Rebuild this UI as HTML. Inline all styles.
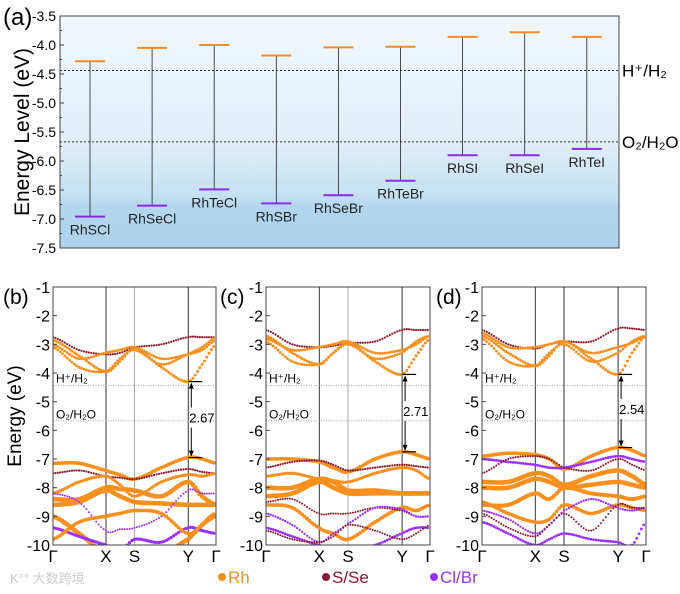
<!DOCTYPE html>
<html><head><meta charset="utf-8"><style>
html,body{margin:0;padding:0;background:#fff;width:680px;height:594px;overflow:hidden}
svg{display:block;font-family:"Liberation Sans","Noto Sans CJK SC",sans-serif}
</style></head><body>
<svg id="fig" width="680" height="594" viewBox="0 0 680 594">
<defs>
<linearGradient id="bg" x1="0" y1="0" x2="0" y2="1">
<stop offset="0" stop-color="#f2f8fd"/><stop offset="0.55" stop-color="#e0eef8"/><stop offset="0.78" stop-color="#c3e0f2"/><stop offset="0.82" stop-color="#b3d6ee"/><stop offset="1" stop-color="#acd2ec"/>
</linearGradient>
</defs>
<g id="pa"></g>
<g id="pb"></g>
<g id="pc"></g>
<g id="pd"></g>
<g font-size="17">
<circle cx="222" cy="577" r="4" fill="#f7901e"/>
<text x="228" y="583" fill="#f7901e">Rh</text>
<circle cx="326" cy="577" r="4" fill="#8b1a2e"/>
<text x="332" y="583" fill="#8b1a2e">S/Se</text>
<circle cx="434" cy="577" r="4" fill="#9b30ff"/>
<text x="440" y="583" fill="#9b30ff">Cl/Br</text>
</g>
<text x="10" y="583" font-size="13" fill="#ccc">K°° 大数跨境</text>
</svg>
<script>
const NS="http://www.w3.org/2000/svg";
function mk(p,tag,at,txt){const e=document.createElementNS(NS,tag);for(const k in at)e.setAttribute(k,at[k]);if(txt!==undefined)e.textContent=txt;p.appendChild(e);return e;}

// ---- Panel (a) data ----
const materials=["RhSCl","RhSeCl","RhTeCl","RhSBr","RhSeBr","RhTeBr","RhSI","RhSeI","RhTeI"];
const cbm=[-4.28,-4.05,-4.0,-4.18,-4.04,-4.03,-3.86,-3.78,-3.86];
const vbm=[-6.96,-6.77,-6.49,-6.73,-6.59,-6.34,-5.9,-5.9,-5.79];
const aTicks=[-3.5,-4.0,-4.5,-5.0,-5.5,-6.0,-6.5,-7.0,-7.5];
const redoxH=-4.44, redoxO=-5.67;

(function(){
 const g=document.getElementById('pa');
 const L=60,R=619,T=16,B=248;
 const y=v=>T+(-3.5-v)/4*(B-T);
 const x=i=>90+i*62.1;
 let e=mk(g,'rect',{x:L,y:T,width:R-L,height:B-T,fill:'url(#bg)',stroke:'#444','stroke-width':1});
 
 e=mk(g,'text',{x:3,y:25,'font-size':24},'(a)');
 
 aTicks.forEach(v=>{
  e=mk(g,'line',{x1:L,x2:L+4,y1:y(v),y2:y(v),stroke:'#444'});
  
  if(v>-7.5){
   e=mk(g,'line',{x1:L,x2:L+2,y1:y(v-0.25),y2:y(v-0.25),stroke:'#444'});
   
  }
  e=mk(g,'text',{x:L-4,y:y(v)+5,'font-size':14,'text-anchor':'end'},v.toFixed(1));
  
 });
 e=mk(g,'text',{x:0,y:0,'font-size':21,'text-anchor':'middle',transform:`translate(29,${(T+B)/2}) rotate(-90)`},'Energy Level (eV)');
 
 [[redoxH,'H⁺/H₂','h-line-a'],[redoxO,'O₂/H₂O','o-line-a']].forEach(([v,t,n])=>{
  e=mk(g,'line',{x1:L,x2:R,y1:y(v),y2:y(v),stroke:'#333','stroke-dasharray':'2,2'});
  
  e=mk(g,'text',{x:622,y:y(v)+6,'font-size':17},t);
  
 });
 materials.forEach((m,i)=>{
  const cx=x(i);
  e=mk(g,'line',{x1:cx,x2:cx,y1:y(cbm[i]),y2:y(vbm[i]),stroke:'#222','stroke-width':0.8});
  
  e=mk(g,'line',{x1:cx-15,x2:cx+15,y1:y(cbm[i]),y2:y(cbm[i]),stroke:'#f28a2a','stroke-width':2});
  
  e=mk(g,'line',{x1:cx-15,x2:cx+15,y1:y(vbm[i]),y2:y(vbm[i]),stroke:'#8a2be2','stroke-width':2});
  
  e=mk(g,'text',{x:cx,y:y(vbm[i])+18,'font-size':14,'text-anchor':'middle',fill:'#222'},m);
  
 });
})();

// ---- Band structure data ----
const kFrac=[0,0.16,0.325,0.41,0.5,0.665,0.83,0.915,1];
const kLabels=["Γ","X","S","Y","Γ"];
const kLabelPos=[0,0.325,0.5,0.83,1];
const eTicks=[-1,-2,-3,-4,-5,-6,-7,-8,-9,-10];
// b
const bBands=[
 [[-2.75,-3.2,-3.35,-3.3,-3.1,-3.0,-2.75,-2.75,-2.75],'d',1.4],
 [[-2.85,-3.4,-3.95,-3.6,-3.15,-3.8,-4.3,-3.7,-3.0],'o',2.2],
 [[-3.0,-3.5,-3.3,-3.2,-3.1,-3.5,-3.35,-3.2,-2.85],'o',2.0],
 [[-3.1,-3.8,-3.95,-3.5,-3.2,-3.7,-3.35,-3.1,-2.75],'o',2.0],
 [[-7.15,-7.15,-7.4,-7.55,-7.7,-7.3,-6.95,-7.0,-7.15],'o',3.0],
 [[-7.5,-7.4,-7.6,-7.65,-7.7,-7.5,-7.35,-7.45,-7.5],'d',1.4],
 [[-8.2,-7.8,-7.6,-7.9,-8.3,-7.8,-7.55,-7.6,-7.5],'o',2.5],
 [[-8.4,-8.4,-8.0,-8.05,-8.1,-8.3,-7.8,-8.3,-8.6],'o',4.0],
 [[-8.6,-8.5,-8.1,-8.3,-8.5,-8.55,-8.6,-8.6,-8.6],'o',4.0],
 [[-8.2,-8.5,-9.5,-9.45,-9.4,-9.0,-8.1,-8.2,-8.2],'p',1.2],
 [[-9.0,-9.6,-10.3,-10.3,-10.3,-10.3,-9.8,-9.3,-8.9],'o',4.0],
 [[-9.4,-9.7,-10.0,-10.2,-9.8,-9.9,-9.4,-9.5,-9.6],'p',2.5],
 [[-9.8,-9.2,-9.0,-8.9,-8.8,-8.9,-9.6,-9.3,-9.0],'o',3.0]
];
const bGap=[-4.3,-6.95], bGapLabel="2.67";
// c
const cBands=[
 [[-2.5,-3.0,-3.1,-3.05,-2.95,-2.9,-2.5,-2.5,-2.5],'d',1.4],
 [[-2.7,-3.3,-3.7,-3.3,-2.95,-3.6,-4.05,-3.4,-2.8],'o',2.2],
 [[-2.8,-3.2,-3.1,-3.0,-2.9,-3.3,-3.2,-3.0,-2.7],'o',2.0],
 [[-2.9,-3.6,-3.7,-3.3,-3.0,-3.5,-3.3,-2.9,-2.7],'o',2.0],
 [[-7.0,-7.0,-7.1,-7.3,-7.45,-7.0,-6.75,-6.85,-7.0],'o',3.0],
 [[-7.3,-7.1,-7.05,-7.2,-7.4,-7.3,-7.2,-7.25,-7.3],'d',1.4],
 [[-7.6,-7.5,-7.7,-7.75,-7.8,-7.5,-7.3,-7.4,-7.7],'o',2.5],
 [[-8.0,-8.0,-7.7,-7.8,-8.1,-8.1,-8.2,-8.2,-8.2],'o',4.0],
 [[-8.3,-8.2,-7.8,-8.0,-8.2,-8.2,-8.2,-8.2,-8.2],'o',4.0],
 [[-8.6,-8.7,-9.4,-9.6,-9.8,-9.2,-8.7,-8.8,-8.6],'o',3.0],
 [[-8.5,-8.4,-8.9,-8.9,-8.9,-8.7,-8.8,-9.0,-9.0],'d',1.2],
 [[-8.9,-9.3,-9.9,-9.6,-9.25,-8.7,-8.75,-9.0,-9.0],'p',1.5],
 [[-9.4,-9.7,-10.0,-10.1,-10.1,-10.0,-9.6,-9.4,-9.4],'p',2.0],
 [[-9.5,-9.8,-9.9,-9.7,-9.3,-9.5,-9.8,-9.6,-9.3],'d',1.2]
];
const cGap=[-4.05,-6.75], cGapLabel="2.71";
// d
const dBands=[
 [[-2.5,-3.0,-3.15,-3.0,-2.9,-2.9,-2.45,-2.45,-2.5],'d',1.4],
 [[-2.7,-3.3,-3.75,-3.4,-2.9,-3.5,-4.05,-3.3,-2.7],'o',2.2],
 [[-2.6,-3.1,-3.1,-3.0,-2.9,-3.3,-3.1,-2.95,-2.7],'o',2.0],
 [[-2.8,-3.6,-3.75,-3.3,-3.0,-3.6,-3.3,-2.9,-2.7],'o',2.0],
 [[-6.9,-6.8,-6.85,-7.0,-7.35,-6.9,-6.6,-6.7,-6.9],'o',3.0],
 [[-7.0,-7.1,-7.2,-7.3,-7.3,-7.1,-6.9,-7.0,-7.1],'p',2.0],
 [[-7.5,-7.0,-6.9,-7.0,-7.3,-7.4,-7.0,-7.2,-7.4],'d',1.3],
 [[-7.8,-7.8,-7.5,-7.6,-7.9,-7.6,-7.4,-7.6,-7.9],'o',4.0],
 [[-8.0,-8.0,-7.7,-7.8,-8.0,-7.9,-7.8,-7.9,-8.0],'o',4.0],
 [[-8.6,-8.6,-8.2,-8.4,-8.0,-8.2,-8.3,-8.4,-8.3],'o',3.5],
 [[-8.5,-8.9,-9.2,-9.1,-8.6,-8.9,-8.6,-8.7,-8.8],'o',3.0],
 [[-8.8,-9.1,-9.6,-9.3,-8.8,-8.4,-8.7,-8.8,-8.7],'p',1.5],
 [[-8.9,-9.4,-9.7,-9.3,-8.9,-9.5,-8.6,-8.7,-8.7],'d',1.2],
 [[-9.2,-9.6,-10.0,-9.8,-9.6,-9.8,-9.9,-10.0,-9.2],'p',2.0]
];
const dGap=[-4.05,-6.6], dGapLabel="2.54";

const colors={o:'#f7901e',d:'#8b1a2e',p:'#9b30ff'};
function cr(p0,p1,p2,p3,t){return 0.5*((2*p1)+(-p0+p2)*t+(2*p0-5*p1+4*p2-p3)*t*t+(-p0+3*p1-3*p2+p3)*t*t*t);}

function bandPanel(id,label,L,R,bands,gap,gapLabel,showTitle){
 const g=document.getElementById(id);
 const T=287,B=545;
 const y=v=>T+(-1-v)/9*(B-T);
 const x=f=>L+f*(R-L);
 const clip='clip'+id;
 const cp=mk(g,'clipPath',{id:clip});mk(cp,'rect',{x:L,y:T,width:R-L,height:B-T});
 let e;
 kLabelPos.forEach((f,i)=>{
  if(i>0&&i<4){e=mk(g,'line',{x1:x(f),x2:x(f),y1:T,y2:B,stroke:i==2&&id!='pd'?'#aaa':'#333','stroke-width':1});
  }
  e=mk(g,'text',{x:x(f),y:B+17,'font-size':17,'text-anchor':'middle'},kLabels[i]);
  
 });
 [redoxH,redoxO].forEach(v=>{
  e=mk(g,'line',{x1:L,x2:R,y1:y(v),y2:y(v),stroke:'#888','stroke-dasharray':'1,1.5','stroke-width':0.8});
  
 });
 e=mk(g,'text',{x:L+3,y:y(-4.2)+4,'font-size':12},'H⁺/H₂');
 
 e=mk(g,'text',{x:L+3,y:y(-5.45)+4,'font-size':12},'O₂/H₂O');
 
 const bg=mk(g,'g',{'clip-path':`url(#${clip})`});
 
 bands.forEach(([vals,c,w])=>{
  const n=vals.length;
  for(let s=0;s<n-1;s++){
   const x0=x(kFrac[s]),x1=x(kFrac[s+1]);
   const steps=Math.max(2,Math.round((x1-x0)/2.4));
   for(let j=0;j<steps;j++){
    const t=j/steps;
    const v=cr(vals[Math.max(0,s-1)],vals[s],vals[s+1],vals[Math.min(n-1,s+2)],t);
    e=mk(bg,'circle',{cx:x0+(x1-x0)*t,cy:y(v),r:w/2+0.4,fill:colors[c]});
    
    
   }
  }
 });
 e=mk(g,'rect',{x:L,y:T,width:R-L,height:B-T,fill:'none',stroke:'#444','stroke-width':1});
 
 eTicks.forEach(v=>{
  e=mk(g,'line',{x1:L,x2:L+4,y1:y(v),y2:y(v),stroke:'#444'});
  
  e=mk(g,'text',{x:L-3,y:y(v)+6,'font-size':16,'text-anchor':'end'},String(v));
  
 });
 const xy=x(0.83);
 e=mk(g,'line',{x1:xy,x2:xy+14,y1:y(gap[0]),y2:y(gap[0]),stroke:'#000','stroke-width':1.2});
 
 e=mk(g,'line',{x1:xy,x2:xy+14,y1:y(gap[1]),y2:y(gap[1]),stroke:'#000','stroke-width':1.2});
 
 const ax=xy+3,mid=(y(gap[0])+y(gap[1]))/2;
 e=mk(g,'line',{x1:ax,x2:ax,y1:y(gap[0])+2,y2:mid-12,stroke:'#000'});
 
 e=mk(g,'line',{x1:ax,x2:ax,y1:mid+8,y2:y(gap[1])-2,stroke:'#000'});
 
 e=mk(g,'path',{d:`M${ax-2.5},${y(gap[0])+7} L${ax},${y(gap[0])+1} L${ax+2.5},${y(gap[0])+7}Z M${ax-2.5},${y(gap[1])-7} L${ax},${y(gap[1])-1} L${ax+2.5},${y(gap[1])-7}Z`,fill:'#000'});
 
 e=mk(g,'text',{x:ax-2,y:mid+3,'font-size':13},gapLabel);
 
 e=mk(g,'text',{x:L-50+(id=='pb'?0:4),y:304,'font-size':21},label);
 
 if(showTitle){
  e=mk(g,'text',{x:0,y:0,'font-size':19,'text-anchor':'middle',transform:`translate(21,${(T+B)/2}) rotate(-90)`},'Energy (eV)');
  
 }
}
bandPanel('pb','(b)',53,216,bBands,bGap,bGapLabel,true);
bandPanel('pc','(c)',266,430,cBands,cGap,cGapLabel,false);
bandPanel('pd','(d)',482,646,dBands,dGap,dGapLabel,false);
</script>
</body></html>
